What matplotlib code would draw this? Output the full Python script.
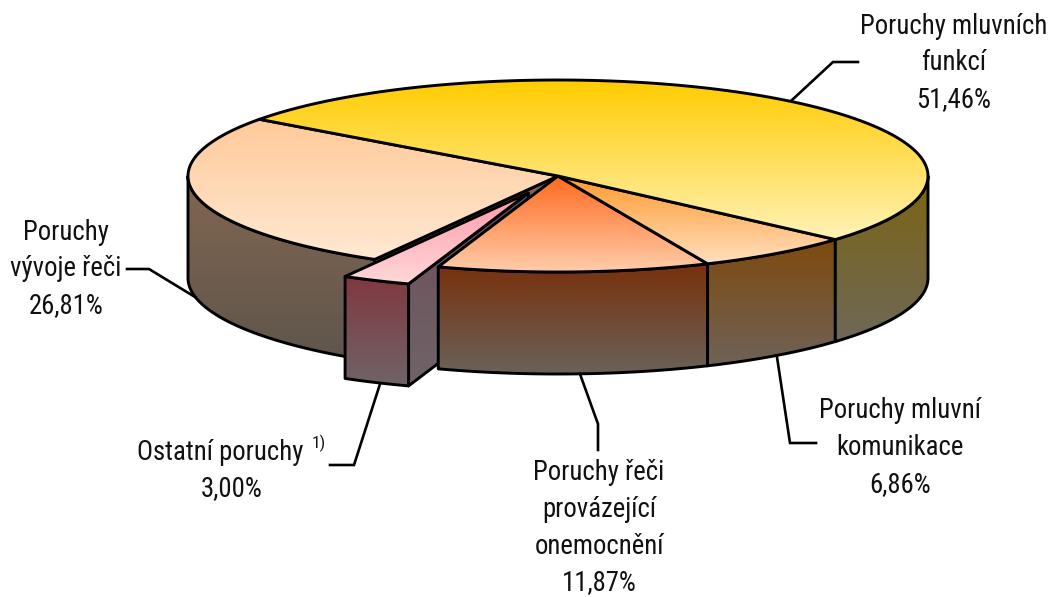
import numpy as np
import matplotlib
matplotlib.use('Agg')
import matplotlib.pyplot as plt
from matplotlib.colors import to_rgb
from matplotlib.patches import Polygon

plt.rcParams['font.family'] = ['Roboto Condensed', 'Archivo Narrow', 'Liberation Sans', 'DejaVu Sans']

# Data
categories = ['Poruchy mluvních\nfunkcí', 'Poruchy mluvní\nkomunikace',
              'Poruchy řeči\nprovázející\nonemocnění', 'Ostatní poruchy',
              'Poruchy\nvývoje řeči']
values = [51.46, 6.86, 11.87, 3.00, 26.81]
value_labels = ['51,46%', '6,86%', '11,87%', '3,00%', '26,81%']

# Pie geometry (pixels)
CX, CY = 558, 176
RX, RY = 370, 96
DEPTH = 102
START = 143.8
EXPLODE = 0.195

# gradient colours for each slice: top face, wall
top_cols = [('#FFCC00', '#FFF2B8'), ('#FF9A2E', '#FFE0C0'), ('#FF6A20', '#FFCDAA'),
            ('#FF99AA', '#FFD8D8'), ('#FFC999', '#FFE9D2')]
wall_cols = [('#7C6512', '#6E6858'), ('#7F4A0E', '#6E6258'), ('#78300C', '#6A6258'),
             ('#80383F', '#6F6468'), ('#836650', '#5E564C')]
side_col = ('#6E4E58', '#6E6468')

fig = plt.figure(figsize=(10.53, 5.97), dpi=100)
ax = fig.add_axes([0, 0, 1, 1])
ax.set_xlim(0, 1053)
ax.set_ylim(597, 0)
ax.axis('off')


def pt(angle, r=1.0, off=(0, 0), drop=0):
    a = np.radians(angle)
    return np.column_stack([CX + off[0] + r * RX * np.cos(a),
                            CY + off[1] + drop - r * RY * np.sin(a)])


def fill(verts, cols, z):
    verts = np.asarray(verts)
    x0, x1 = verts[:, 0].min(), verts[:, 0].max()
    y0, y1 = verts[:, 1].min(), verts[:, 1].max()
    c0, c1 = np.array(to_rgb(cols[0])), np.array(to_rgb(cols[1]))
    t = np.linspace(0, 1, 256)[:, None, None]
    grad = c0 * (1 - t) + c1 * t
    im = ax.imshow(grad, extent=(x0, x1, y1, y0), aspect='auto', zorder=z,
                   interpolation='bilinear')
    poly = Polygon(verts, closed=True, fc='none', ec='black', lw=2.1,
                   joinstyle='round', zorder=z + 0.5)
    ax.add_patch(poly)
    im.set_clip_path(poly)


# slice angles, clockwise from START
edges = START - np.cumsum([0] + values) * 3.6
spans = [(edges[i], edges[i + 1]) for i in range(len(values))]


def top_face(a0, a1, off=(0, 0)):
    arc = pt(np.linspace(a0, a1, 120), off=off)
    return np.vstack([pt(0, 0, off), arc])


def outer_wall(a0, a1, off=(0, 0)):
    arc = pt(np.linspace(a0, a1, 120), off=off)
    low = pt(np.linspace(a1, a0, 120), off=off, drop=DEPTH)
    return np.vstack([arc, low])


def cut_wall(a, off=(0, 0)):
    return np.vstack([pt(0, 0, off), pt(a, 1, off), pt(a, 1, off, DEPTH), pt(0, 0, off, DEPTH)])


# back to front: undercut slice first, then exploded one, then the rest
fill(outer_wall(spans[4][0], -180), wall_cols[4], 1)
fill(cut_wall(spans[4][0]), wall_cols[4], 2)
fill(top_face(spans[4][0], spans[4][1]), top_cols[4], 3)

mid = (spans[3][0] + spans[3][1]) / 2
off = (EXPLODE * RX * np.cos(np.radians(mid)), -EXPLODE * RY * np.sin(np.radians(mid)))
fill(cut_wall(spans[3][0], off), side_col, 4)
fill(outer_wall(spans[3][0], spans[3][1], off), wall_cols[3], 5)
fill(top_face(spans[3][0], spans[3][1], off), top_cols[3], 6)

fill(outer_wall(spans[2][0], spans[2][1]), wall_cols[2], 7)
fill(top_face(spans[2][0], spans[2][1]), top_cols[2], 8)
fill(outer_wall(spans[1][0], spans[1][1]), wall_cols[1], 9)
fill(top_face(spans[1][0], spans[1][1]), top_cols[1], 10)
fill(outer_wall(spans[0][1], 0), wall_cols[0], 11)
fill(top_face(spans[0][0], spans[0][1]), top_cols[0], 12)

# leader lines
leaders = [([792, 833, 858], [100, 62, 62]),
           ([777, 790, 816], [357, 443, 443]),
           ([580, 598, 598], [374, 424, 450]),
           ([380, 354, 330], [384, 465, 465]),
           ([195, 149, 127], [297, 269, 269])]
for lx, ly in leaders:
    ax.plot(lx, ly, color='black', lw=1.9, solid_joinstyle='miter', zorder=20)

# labels, one text per line; x of the first line differs for the footnoted label
FS = 19.3
LINE = 36.6
label_pos = [(954, 26), (900, 411), (599, 473), (232, 452), (66, 232)]
for cat, val, (tx, ty) in zip(categories, value_labels, label_pos):
    lines = cat.split('\n') + [val]
    for i, line in enumerate(lines):
        lx = 220 if line == 'Ostatní poruchy' else tx
        ax.text(lx, ty + i * LINE, line, ha='center', va='center', fontsize=FS,
                color='#111111', zorder=21)
ax.text(319, 443, '1)', ha='center', va='center', fontsize=FS * 0.65, color='#111111', zorder=21)

fig.savefig('out.png', dpi=100)
